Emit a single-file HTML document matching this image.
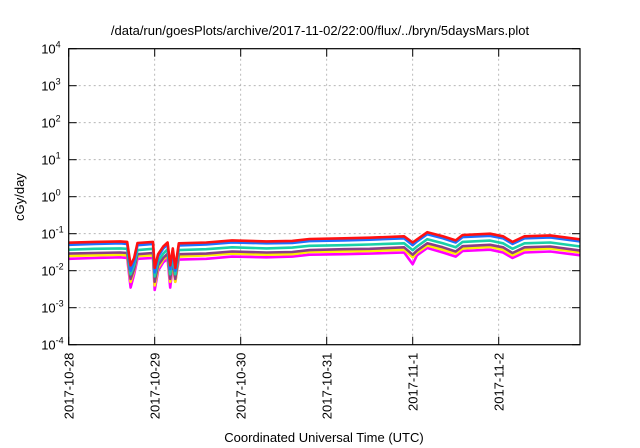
<!DOCTYPE html>
<html><head><meta charset="utf-8"><style>
body{margin:0;background:#fff;}
svg{display:block;font-family:"Liberation Sans",sans-serif;}
</style></head><body>
<svg id="c" width="640" height="448"></svg>
<script>
const times=[0,0.3,0.6,0.68,0.72,0.76,0.8,0.98,1.0,1.04,1.1,1.15,1.18,1.21,1.24,1.28,1.6,1.9,2.3,2.6,2.8,3.2,3.5,3.9,4.0,4.05,4.17,4.35,4.5,4.58,4.9,5.05,5.16,5.3,5.6,5.95];
const redVals=[0.057,0.06,0.062,0.06,0.014,0.022,0.056,0.06,0.012,0.028,0.045,0.058,0.014,0.04,0.012,0.055,0.058,0.066,0.062,0.064,0.072,0.075,0.078,0.085,0.058,0.07,0.11,0.085,0.066,0.092,0.1,0.085,0.06,0.085,0.09,0.07];
const blueVals=[0.050,0.053,0.055,0.053,0.010,0.018,0.049,0.053,0.009,0.024,0.040,0.051,0.011,0.035,0.010,0.048,0.051,0.058,0.055,0.056,0.063,0.066,0.069,0.075,0.049,0.062,0.097,0.075,0.058,0.081,0.088,0.075,0.053,0.075,0.079,0.062];
const tealVals=[0.037,0.039,0.040,0.039,0.008,0.014,0.036,0.039,0.007,0.018,0.029,0.038,0.008,0.026,0.008,0.036,0.038,0.043,0.040,0.042,0.047,0.049,0.051,0.055,0.036,0.045,0.071,0.055,0.043,0.060,0.065,0.055,0.039,0.055,0.058,0.045];
const purpleVals=[0.029,0.030,0.031,0.030,0.006,0.011,0.028,0.030,0.005,0.014,0.022,0.029,0.006,0.020,0.006,0.028,0.029,0.033,0.031,0.032,0.036,0.038,0.039,0.043,0.027,0.035,0.055,0.043,0.033,0.046,0.050,0.043,0.030,0.043,0.045,0.035];
const yellowVals=[0.025,0.026,0.027,0.026,0.005,0.010,0.025,0.026,0.004,0.012,0.020,0.026,0.005,0.018,0.005,0.024,0.026,0.029,0.027,0.028,0.032,0.033,0.034,0.037,0.023,0.031,0.048,0.037,0.029,0.040,0.044,0.037,0.026,0.037,0.040,0.031];
const magentaVals=[0.021,0.022,0.023,0.022,0.0035,0.008,0.021,0.022,0.003,0.010,0.017,0.021,0.0035,0.015,0.005,0.020,0.021,0.024,0.023,0.024,0.027,0.028,0.029,0.031,0.015,0.026,0.041,0.031,0.024,0.034,0.037,0.031,0.022,0.031,0.033,0.026];
const xTickLabels=["2017-10-28","2017-10-29","2017-10-30","2017-10-31","2017-11-1","2017-11-2"];
const yTickExps=[-4,-3,-2,-1,0,1,2,3,4];

const NS="http://www.w3.org/2000/svg";
const svg=document.getElementById('c');
const L=68.7,R=580,T=48.7,B=344.7,DAY=86;
const xs=d=>L+d*DAY;
const ys=v=>B-(Math.log10(v)+4)*(B-T)/8;
function mk(tag,attrs,parent){const e=document.createElementNS(NS,tag);for(const k in attrs)e.setAttribute(k,attrs[k]);(parent||svg).appendChild(e);return e;}

// title
let t=mk('text',{x:320,y:35,'text-anchor':'middle','font-size':13});
t.textContent='/data/run/goesPlots/archive/2017-11-02/22:00/flux/../bryn/5daysMars.plot';



// grid + y ticks
yTickExps.forEach(e=>{
  const y=ys(Math.pow(10,e));
  if(e>-4&&e<4){const g=mk('line',{x1:L,x2:R,y1:y,y2:y,stroke:'#aaa','stroke-width':0.8,'stroke-dasharray':'2,3'});
  
  }
  mk('line',{x1:L,x2:L+8,y1:y,y2:y,stroke:'#000'});
  mk('line',{x1:R-8,x2:R,y1:y,y2:y,stroke:'#000'});
  const lb=mk('text',{x:L-8,y:y+5,'text-anchor':'end','font-size':13});
  
  
  lb.textContent='10';
  const sp=mk('tspan',{dy:-6,'font-size':9},lb);sp.textContent=String(e);
  if(e<0){lb.setAttribute('x',L-5);}
});
// x grid + ticks
xTickLabels.forEach((s,i)=>{
  const x=xs(i);
  if(i>0){const g=mk('line',{x1:x,x2:x,y1:T,y2:B,stroke:'#aaa','stroke-width':0.8,'stroke-dasharray':'2,3'});
  
  }
  mk('line',{x1:x,x2:x,y1:B,y2:B-8,stroke:'#000'});
  mk('line',{x1:x,x2:x,y1:T,y2:T+8,stroke:'#000'});
  const lb=mk('text',{x:0,y:0,'text-anchor':'end','font-size':13,transform:`translate(${x+5},${B+8}) rotate(-90)`});
  
  
  lb.textContent=s;
});

// series
const series=[[magentaVals,'#ff00ff','series-magenta'],[yellowVals,'#ffee00','series-yellow'],[purpleVals,'#8b3d87','series-purple'],[tealVals,'#19d0a8','series-teal'],[blueVals,'#1e6fff','series-blue'],[redVals,'#ff1010','series-red']];
series.forEach(([vals,col,name])=>{
  const d=vals.map((v,i)=>(i?'L':'M')+xs(times[i]).toFixed(1)+','+ys(v).toFixed(1)).join('');
  const p=mk('path',{d:d,fill:'none',stroke:col,'stroke-width':2.6,'stroke-linejoin':'round'});
  
  
});

// frame
const f=mk('rect',{x:L,y:T,width:R-L,height:B-T,fill:'none',stroke:'#000','stroke-width':1.2});



let yl=mk('text',{x:0,y:0,'text-anchor':'middle','font-size':13,transform:'translate(24,197) rotate(-90)'});
yl.textContent='cGy/day';


let xl=mk('text',{x:324,y:442,'text-anchor':'middle','font-size':13});
xl.textContent='Coordinated Universal Time (UTC)';


</script>
</body></html>
